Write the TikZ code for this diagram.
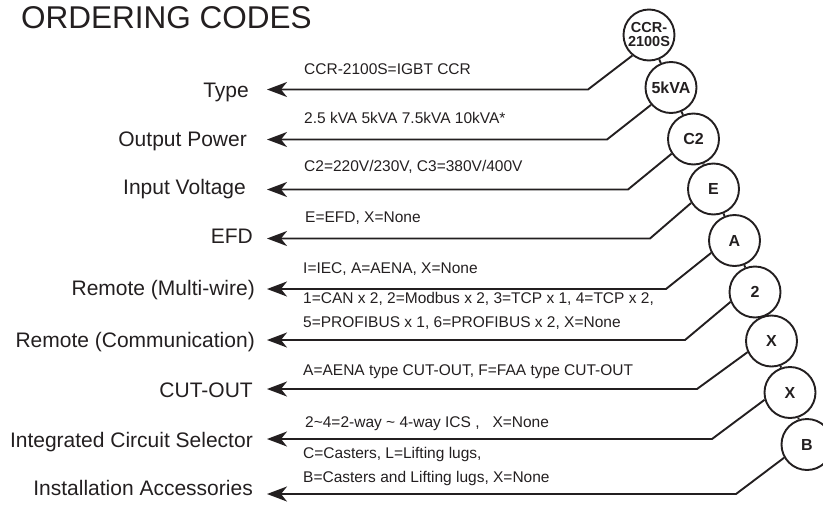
\documentclass[tikz,border=0pt]{standalone}
\usepackage{fontspec}
\setmainfont{Liberation Sans}
\usetikzlibrary{arrows.meta}
\definecolor{ink}{HTML}{231F20}
\begin{document}
\begin{tikzpicture}[x=1pt,y=-1pt,
  code/.style={circle,draw=ink,line width=1.9pt,minimum size=51pt,inner sep=0pt,
    font=\fontsize{16}{15}\selectfont\bfseries,text=ink,align=center},
  lbl/.style={anchor=base east,inner sep=0pt,font=\fontsize{21}{25}\selectfont,text=ink},
  desc/.style={anchor=base west,inner sep=0pt,font=\fontsize{15.5}{18}\selectfont,text=ink},
  lead/.style={draw=ink,line width=1.9pt,-{Stealth[length=20pt,width=15pt,inset=6pt]}},
  stub/.style={draw=ink,line width=1.9pt}]
\useasboundingbox (0,0) rectangle (823,504);
\clip (0,0) rectangle (823,504);

\node[anchor=base west,inner sep=0pt,font=\fontsize{31.5}{36}\selectfont,text=ink] (title) at (21,28.5) {ORDERING CODES};

% code circles
\node[code,font=\fontsize{14.5}{14}\selectfont\bfseries] (c1) at (649,35) {CCR-\\2100S};
\node[code] (c2) at (671,87.5) {5kVA};
\node[code] (c3) at (693.5,139) {C2};
\node[code] (c4) at (713.5,189) {E};
\node[code] (c5) at (734.5,240.5) {A};
\node[code] (c6) at (755,292) {2};
\node[code] (c7) at (771.5,341) {X};
\node[code] (c8) at (790,392.5) {X};
\node[code] (c9) at (807,444.5) {B};
\foreach \a/\b in {c1/c2,c2/c3,c3/c4,c4/c5,c5/c6,c6/c7,c7/c8,c8/c9}
  \draw[stub] (\a) -- (\b);

% labels
\node[lbl] (l1) at (249,97) {Type};
\node[lbl] (l2) at (247,146) {Output Power};
\node[lbl] (l3) at (246,194) {Input Voltage};
\node[lbl] (l4) at (253,243) {EFD};
\node[lbl] (l5) at (255,295) {Remote (Multi-wire)};
\node[lbl] (l6) at (255,347) {Remote (Communication)};
\node[lbl] (l7) at (253,397) {CUT-OUT};
\node[lbl] (l8) at (253,447) {Integrated Circuit Selector};
\node[lbl] (l9) at (253,495) {Installation Accessories};

% descriptions
\node[desc] (d1) at (304,74.5) {CCR-2100S=IGBT CCR};
\node[desc] (d2) at (304,123.5) {2.5 kVA 5kVA 7.5kVA 10kVA*};
\node[desc] (d3) at (304,171.5) {C2=220V/230V, C3=380V/400V};
\node[desc] (d4) at (305,222.5) {E=EFD, X=None};
\node[desc] (d5) at (303,273.5) {I=IEC, A=AENA, X=None};
\node[desc] (d6a) at (303,303.5) {1=CAN x 2, 2=Modbus x 2, 3=TCP x 1, 4=TCP x 2,};
\node[desc] (d6b) at (303,327.5) {5=PROFIBUS x 1, 6=PROFIBUS x 2, X=None};
\node[desc] (d7) at (303,375.5) {A=AENA type CUT-OUT, F=FAA type CUT-OUT};
\node[desc] (d8) at (305,427.5) {2\textasciitilde4=2-way \textasciitilde{} 4-way ICS ,\ \ \ X=None};
\node[desc] (d9a) at (303,458.5) {C=Casters, L=Lifting lugs,};
\node[desc] (d9b) at (303,482.5) {B=Casters and Lifting lugs, X=None};

% leader corners and arrow tips
\coordinate (k1) at (588,89.5);  \coordinate (t1) at (267,89.5);
\coordinate (k2) at (607,139.5); \coordinate (t2) at (267,139.5);
\coordinate (k3) at (628,189.5); \coordinate (t3) at (267,189.5);
\coordinate (k4) at (650,238.5); \coordinate (t4) at (267,238.5);
\coordinate (k5) at (666,289);   \coordinate (t5) at (267,289);
\coordinate (k6) at (685,340);   \coordinate (t6) at (267,340);
\coordinate (k7) at (697,389);   \coordinate (t7) at (267,389);
\coordinate (k8) at (712,439);   \coordinate (t8) at (267,439);
\coordinate (k9) at (736,494);   \coordinate (t9) at (267,494);

\draw[lead] (c1.231) -- (k1) -- (t1);
\draw[lead] (c2.221) -- (k2) -- (t2);
\draw[lead] (c3.214.5) -- (k3) -- (t3);
\draw[lead] (c4.212) -- (k4) -- (t4);
\draw[lead] (c5.208) -- (k5) -- (t5);
\draw[lead] (c6.202.6) -- (k6) -- (t6);
\draw[lead] (c7.205) -- (k7) -- (t7);
\draw[lead] (c8.196) -- (k8) -- (t8);
\draw[lead] (c9.210) -- (k9) -- (t9);
\end{tikzpicture}
\end{document}
